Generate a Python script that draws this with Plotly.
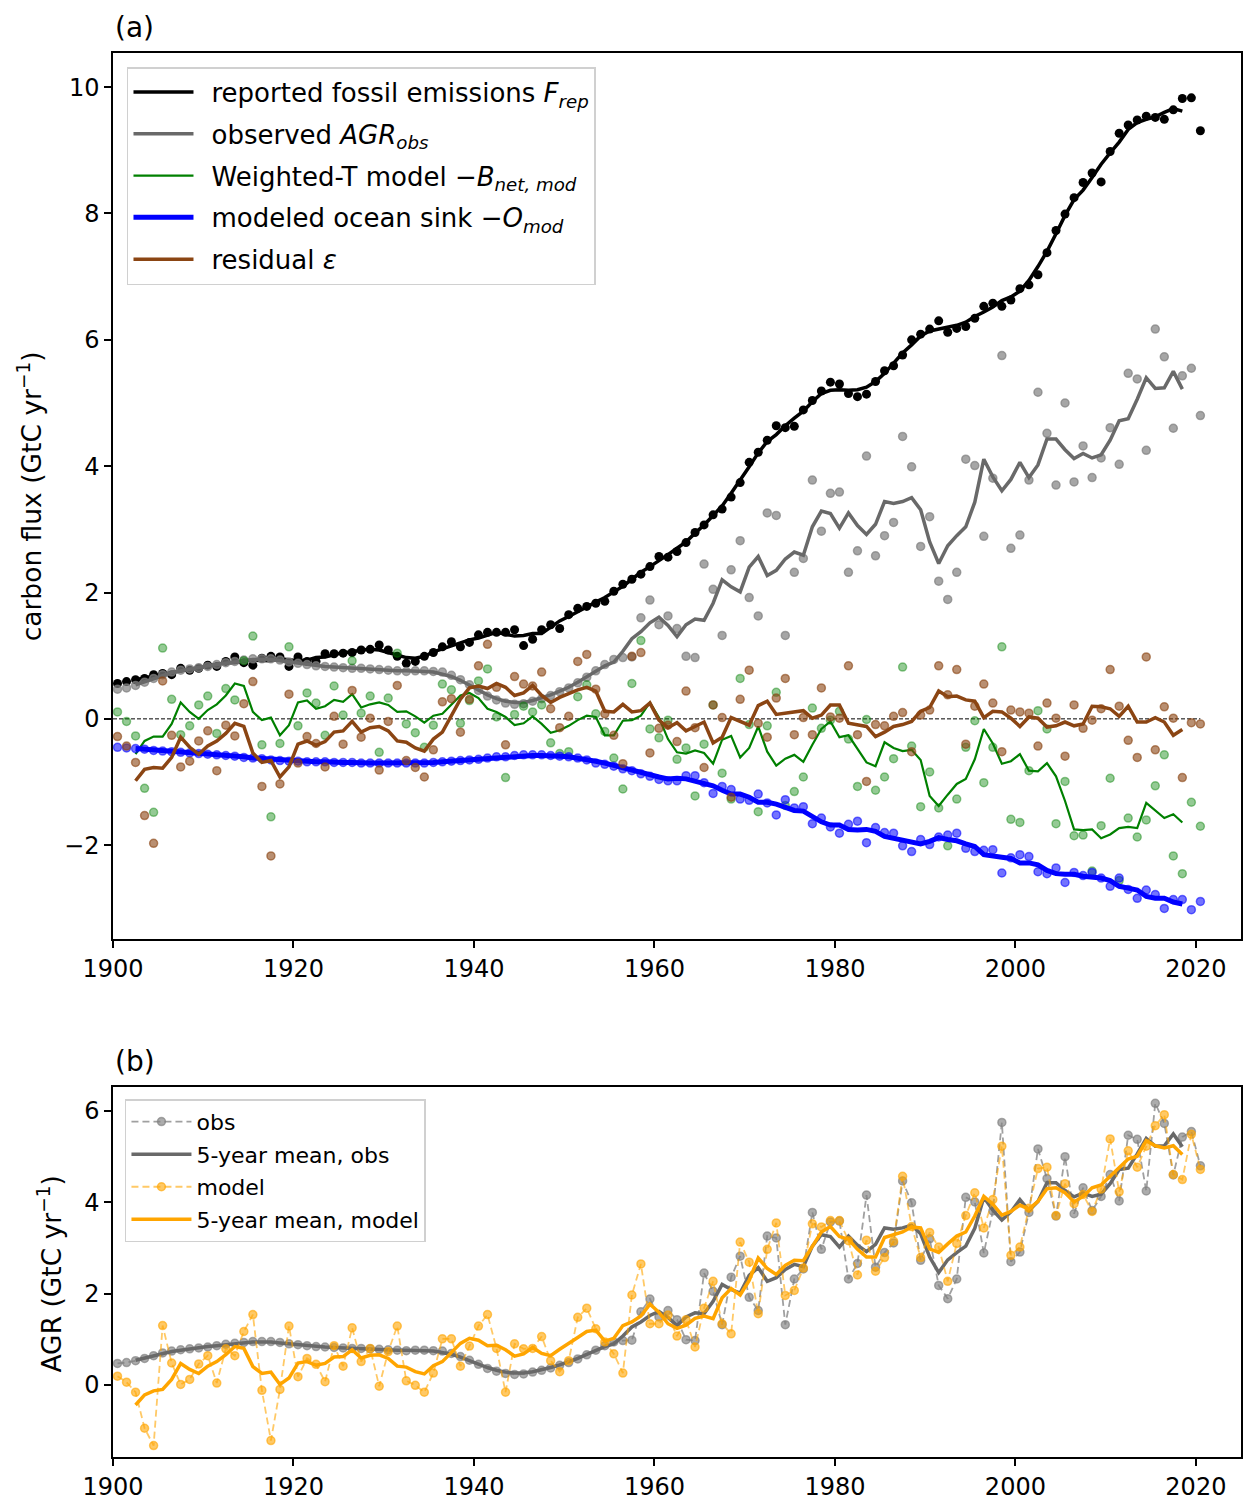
import plotly.graph_objects as go

# ---------------- data ----------------
years = list(range(1900, 2021))          # annual values
mean_years = list(range(1902, 2019))     # centred 5-year means

x_ticks = [1900, 1920, 1940, 1960, 1980, 2000, 2020]
y_ticks_a = [-2, 0, 2, 4, 6, 8, 10]
y_ticks_b = [0, 2, 4, 6]

fossil = [0.56, 0.59, 0.62, 0.64, 0.70, 0.72, 0.70, 0.80, 0.77, 0.80,
          0.85, 0.83, 0.91, 0.98, 0.89, 0.85, 0.96, 0.99, 0.98, 0.83,
          0.98, 0.91, 0.91, 1.03, 1.03, 1.04, 1.05, 1.09, 1.10, 1.17,
          1.09, 0.99, 0.88, 0.91, 0.99, 1.05, 1.14, 1.22, 1.14, 1.21,
          1.33, 1.37, 1.37, 1.37, 1.41, 1.16, 1.26, 1.41, 1.49, 1.43,
          1.65, 1.75, 1.78, 1.83, 1.86, 2.02, 2.13, 2.21, 2.29, 2.41,
          2.57, 2.56, 2.65, 2.79, 2.95, 3.07, 3.23, 3.32, 3.51, 3.74,
          4.06, 4.22, 4.41, 4.64, 4.61, 4.63, 4.89, 5.04, 5.19, 5.33,
          5.30, 5.15, 5.10, 5.14, 5.34, 5.51, 5.59, 5.76, 6.00, 6.09,
          6.17, 6.30, 6.12, 6.18, 6.21, 6.34, 6.53, 6.58, 6.53, 6.63,
          6.81, 6.87, 7.03, 7.38, 7.73, 7.99, 8.25, 8.49, 8.64, 8.50,
          8.98, 9.27, 9.40, 9.48, 9.54, 9.52, 9.49, 9.64, 9.82, 9.83, 9.31]

fossil_5y = [0.62, 0.65, 0.68, 0.71, 0.74, 0.76, 0.78, 0.81,
             0.83, 0.87, 0.89, 0.89, 0.92, 0.93, 0.93, 0.92, 0.95, 0.94,
             0.92, 0.93, 0.97, 0.98, 1.01, 1.05, 1.06, 1.09, 1.10, 1.09,
             1.05, 1.01, 0.97, 0.96, 0.99, 1.06, 1.11, 1.15, 1.21, 1.25,
             1.28, 1.33, 1.37, 1.34, 1.31, 1.32, 1.35, 1.35, 1.45, 1.55,
             1.62, 1.69, 1.77, 1.85, 1.92, 2.01, 2.10, 2.21, 2.32, 2.41,
             2.50, 2.60, 2.70, 2.80, 2.94, 3.07, 3.22, 3.37, 3.57, 3.77,
             3.99, 4.21, 4.39, 4.50, 4.64, 4.76, 4.87, 5.02, 5.15, 5.20,
             5.21, 5.20, 5.21, 5.25, 5.34, 5.47, 5.64, 5.79, 5.92, 6.06,
             6.14, 6.17, 6.20, 6.23, 6.28, 6.37, 6.44, 6.52, 6.62, 6.68,
             6.77, 6.94, 7.16, 7.40, 7.68, 7.97, 8.22, 8.37, 8.57, 8.78,
             8.96, 9.13, 9.33, 9.44, 9.49, 9.53, 9.60, 9.66, 9.62]

agr_obs = [0.47, 0.49, 0.53, 0.58, 0.64, 0.70, 0.74, 0.77, 0.79, 0.81,
           0.83, 0.86, 0.89, 0.91, 0.93, 0.95, 0.95, 0.95, 0.93, 0.90,
           0.88, 0.86, 0.84, 0.83, 0.82, 0.81, 0.80, 0.80, 0.79, 0.78,
           0.77, 0.76, 0.75, 0.76, 0.76, 0.75, 0.74, 0.69, 0.62, 0.54,
           0.45, 0.36, 0.30, 0.25, 0.23, 0.24, 0.28, 0.32, 0.37, 0.43,
           0.49, 0.57, 0.66, 0.76, 0.86, 0.94, 0.97, 0.98, 1.60, 1.88,
           1.49, 1.63, 1.43, 0.99, 0.97, 2.45, 2.05, 1.32, 2.36, 2.82,
           1.92, 1.63, 3.26, 3.22, 1.32, 2.32, 2.54, 3.78, 2.97, 3.57,
           3.59, 2.32, 2.66, 4.16, 2.58, 2.90, 3.11, 4.47, 3.99, 2.73,
           3.20, 2.18, 1.89, 2.32, 4.11, 4.01, 2.89, 3.81, 5.75, 2.70,
           2.91, 3.78, 5.17, 4.52, 3.70, 5.00, 3.75, 4.32, 3.82, 4.13,
           4.61, 4.03, 5.47, 5.38, 4.25, 6.17, 5.73, 4.60, 5.43, 5.55, 4.80]

agr_obs_5y = [0.54, 0.59, 0.64, 0.69, 0.73, 0.76, 0.79, 0.81,
              0.84, 0.86, 0.88, 0.91, 0.93, 0.94, 0.94, 0.94, 0.92, 0.90,
              0.88, 0.86, 0.85, 0.83, 0.82, 0.81, 0.80, 0.80, 0.79, 0.78,
              0.77, 0.76, 0.76, 0.76, 0.75, 0.74, 0.71, 0.67, 0.61, 0.53,
              0.45, 0.38, 0.32, 0.28, 0.26, 0.26, 0.29, 0.33, 0.38, 0.44,
              0.50, 0.58, 0.67, 0.76, 0.84, 0.90, 1.07, 1.27, 1.38, 1.52,
              1.61, 1.48, 1.30, 1.49, 1.58, 1.56, 1.83, 2.20, 2.09, 2.01,
              2.40, 2.57, 2.27, 2.35, 2.53, 2.64, 2.59, 3.04, 3.29, 3.25,
              3.02, 3.26, 3.06, 2.92, 3.08, 3.44, 3.41, 3.44, 3.50, 3.31,
              2.80, 2.46, 2.74, 2.90, 3.04, 3.43, 4.11, 3.83, 3.61, 3.79,
              4.06, 3.82, 4.02, 4.43, 4.43, 4.26, 4.12, 4.20, 4.13, 4.18,
              4.41, 4.72, 4.75, 5.06, 5.40, 5.23, 5.24, 5.50, 5.22]

land_sink = [0.11, -0.04, -0.27, -1.10, -1.48, 1.12, 0.31, -0.25, -0.11, 0.22,
             0.36, -0.23, 0.48, 0.30, 0.92, 1.31, -0.41, -1.55, -0.39, 1.14,
             -0.11, 0.41, 0.25, -0.26, 0.52, 0.06, 0.92, 0.09, 0.36, -0.53,
             0.33, 1.04, -0.08, -0.22, -0.45, -0.10, 0.55, 0.46, -0.07, 0.29,
             0.60, 0.79, 0.03, -0.93, 0.07, 0.20, 0.11, 0.22, -0.38, -0.55,
             -0.52, 0.35, 0.54, 0.08, -0.20, -0.62, -1.11, 0.56, 1.24, -0.16,
             -0.30, -0.02, -0.64, -0.46, -1.22, -0.40, 0.22, -0.86, -1.27, 0.64,
             -0.09, -1.47, -0.11, 0.42, -1.37, -1.15, -0.92, 0.17, -0.15, -0.02,
             0.12, -0.32, -1.07, -0.01, -1.13, -0.92, -0.63, 0.82, -0.43, -1.39,
             -0.84, -1.41, -2.01, -1.27, -0.45, -0.03, -1.01, -0.45, 1.14, -1.59,
             -1.64, -0.82, 0.13, -0.16, -1.66, -0.99, -1.85, -1.84, -2.41, -1.69,
             -0.94, -2.56, -1.57, -1.87, -1.60, -1.06, -0.57, -2.17, -2.45, -1.32, -1.70]

land_sink_5y = [-0.56, -0.35, -0.28, -0.28, -0.08, 0.26, 0.11, 0.00,
                0.14, 0.23, 0.37, 0.56, 0.52, 0.11, -0.02, 0.02, -0.26, -0.10,
                0.26, 0.29, 0.16, 0.20, 0.30, 0.27, 0.39, 0.18, 0.23, 0.26,
                0.22, 0.11, 0.12, 0.04, -0.06, 0.05, 0.08, 0.23, 0.37, 0.41,
                0.33, 0.16, 0.11, 0.03, -0.10, -0.07, 0.04, -0.08, -0.22, -0.18,
                -0.11, -0.02, 0.05, 0.03, -0.26, -0.26, -0.03, -0.02, 0.05, 0.26,
                0.02, -0.32, -0.53, -0.55, -0.50, -0.54, -0.71, -0.33, -0.27, -0.61,
                -0.46, -0.12, -0.52, -0.74, -0.63, -0.57, -0.68, -0.41, -0.16, -0.04,
                -0.29, -0.26, -0.48, -0.69, -0.75, -0.37, -0.46, -0.51, -0.49, -0.65,
                -1.22, -1.38, -1.20, -1.03, -0.95, -0.64, -0.16, -0.39, -0.71, -0.67,
                -0.56, -0.82, -0.83, -0.70, -0.91, -1.30, -1.75, -1.76, -1.75, -1.89,
                -1.83, -1.73, -1.71, -1.73, -1.33, -1.45, -1.57, -1.51, -1.64]

ocean_sink = [-0.45, -0.46, -0.47, -0.48, -0.50, -0.51, -0.52, -0.53, -0.54, -0.55,
              -0.56, -0.57, -0.58, -0.59, -0.61, -0.62, -0.63, -0.65, -0.66, -0.67,
              -0.67, -0.68, -0.68, -0.68, -0.69, -0.69, -0.69, -0.70, -0.70, -0.70,
              -0.70, -0.70, -0.70, -0.70, -0.70, -0.69, -0.68, -0.67, -0.66, -0.65,
              -0.64, -0.62, -0.60, -0.60, -0.58, -0.57, -0.57, -0.57, -0.58, -0.59,
              -0.60, -0.62, -0.65, -0.70, -0.72, -0.75, -0.79, -0.82, -0.87, -0.91,
              -0.96, -0.98, -0.98, -0.90, -0.90, -1.01, -1.18, -1.07, -1.12, -1.27,
              -1.29, -1.19, -1.33, -1.52, -1.28, -1.41, -1.39, -1.66, -1.57, -1.71,
              -1.81, -1.67, -1.62, -1.96, -1.72, -1.80, -1.81, -2.01, -2.10, -1.91,
              -1.99, -1.87, -1.84, -1.81, -2.05, -2.10, -2.08, -2.07, -2.44, -2.20,
              -2.15, -2.18, -2.42, -2.45, -2.36, -2.59, -2.43, -2.48, -2.43, -2.52,
              -2.65, -2.52, -2.70, -2.84, -2.71, -2.78, -3.00, -2.86, -2.86, -3.02, -2.89]

ocean_sink_5y = [-0.47, -0.48, -0.49, -0.50, -0.51, -0.53, -0.54, -0.55,
                 -0.56, -0.57, -0.58, -0.59, -0.60, -0.62, -0.63, -0.64, -0.65, -0.66,
                 -0.67, -0.68, -0.68, -0.68, -0.69, -0.69, -0.69, -0.70, -0.70, -0.70,
                 -0.70, -0.70, -0.70, -0.70, -0.70, -0.69, -0.68, -0.67, -0.66, -0.65,
                 -0.64, -0.62, -0.61, -0.60, -0.59, -0.58, -0.58, -0.58, -0.58, -0.59,
                 -0.60, -0.62, -0.64, -0.67, -0.70, -0.74, -0.77, -0.81, -0.85, -0.89,
                 -0.92, -0.95, -0.94, -0.95, -0.99, -1.01, -1.06, -1.13, -1.19, -1.19,
                 -1.24, -1.32, -1.32, -1.35, -1.39, -1.45, -1.46, -1.55, -1.63, -1.68,
                 -1.68, -1.75, -1.76, -1.75, -1.78, -1.86, -1.89, -1.93, -1.96, -1.98,
                 -1.94, -1.88, -1.91, -1.93, -1.98, -2.02, -2.15, -2.18, -2.19, -2.21,
                 -2.28, -2.28, -2.31, -2.40, -2.45, -2.46, -2.46, -2.49, -2.50, -2.52,
                 -2.56, -2.65, -2.68, -2.71, -2.81, -2.84, -2.84, -2.90, -2.93]

residual = [-0.28, -0.43, -0.69, -1.53, -1.97, 0.60, -0.26, -0.76, -0.67, -0.35,
            -0.19, -0.82, -0.10, -0.27, 0.24, 0.59, -1.07, -2.17, -1.03, 0.39,
            -0.70, -0.28, -0.39, -0.76, 0.04, -0.40, 0.45, -0.29, 0.01, -0.81,
            -0.04, 0.53, -0.66, -0.77, -0.92, -0.49, 0.27, 0.32, -0.21, 0.31,
            0.84, 1.18, 0.50, -0.41, 0.67, 0.55, 0.52, 0.74, 0.16, -0.14,
            0.04, 0.91, 1.02, 0.47, 0.08, -0.26, -0.71, 0.99, 1.05, -0.54,
            -0.15, -0.10, -0.36, 0.44, -0.14, -0.77, 0.22, 0.02, -1.24, 0.31,
            0.77, -0.07, -0.29, 0.33, 0.64, -0.25, 0.02, -0.25, 0.49, 0.03,
            0.01, 0.84, -0.25, -0.99, -0.09, -0.11, 0.04, 0.10, -0.52, 0.06,
            0.14, 0.84, 0.38, 0.78, -0.40, 0.20, 0.55, 0.25, -0.52, 0.14,
            0.11, 0.09, -0.43, 0.25, 0.01, -0.59, 0.22, -0.15, -0.02, 0.16,
            0.78, 0.20, -0.34, -0.61, 0.98, -0.49, 0.19, 0.01, -0.93, -0.06, -0.08]

residual_5y = [-0.98, -0.80, -0.77, -0.78, -0.61, -0.29, -0.45, -0.56,
               -0.43, -0.35, -0.23, -0.07, -0.12, -0.54, -0.69, -0.66, -0.92, -0.76,
               -0.40, -0.35, -0.42, -0.36, -0.21, -0.19, -0.04, -0.21, -0.14, -0.12,
               -0.19, -0.35, -0.37, -0.46, -0.51, -0.32, -0.21, 0.04, 0.31, 0.49,
               0.52, 0.48, 0.56, 0.50, 0.37, 0.41, 0.53, 0.37, 0.26, 0.34,
               0.40, 0.46, 0.50, 0.44, 0.12, 0.11, 0.23, 0.11, 0.13, 0.25,
               -0.02, -0.14, -0.06, -0.19, -0.12, -0.05, -0.38, -0.29, 0.02, -0.04,
               -0.10, 0.21, 0.28, 0.07, 0.09, 0.10, 0.13, 0.01, 0.06, 0.22,
               0.22, -0.07, -0.10, -0.12, -0.28, -0.21, -0.12, -0.09, -0.04, 0.12,
               0.18, 0.44, 0.35, 0.36, 0.30, 0.28, 0.02, 0.12, 0.11, 0.01,
               -0.12, 0.03, 0.01, -0.13, -0.11, -0.05, -0.11, -0.08, 0.20, 0.19,
               0.16, 0.04, 0.20, -0.05, -0.05, 0.02, -0.05, -0.26, -0.17]

agr_model = [0.19, 0.06, -0.16, -0.95, -1.33, 1.30, 0.48, 0.01, 0.12, 0.46,
             0.64, 0.04, 0.79, 0.64, 1.17, 1.54, -0.12, -1.22, -0.10, 1.29,
             0.18, 0.58, 0.45, 0.07, 0.86, 0.41, 1.25, 0.51, 0.80, -0.03,
             0.73, 1.29, 0.09, -0.01, -0.16, 0.26, 1.01, 1.01, 0.41, 0.85,
             1.29, 1.54, 0.80, -0.16, 0.90, 0.79, 0.80, 1.06, 0.53, 0.29,
             0.53, 1.48, 1.68, 1.23, 0.94, 0.68, 0.26, 1.97, 2.65, 1.34,
             1.34, 1.53, 1.07, 1.43, 0.83, 1.68, 2.27, 1.34, 1.12, 3.13,
             2.69, 1.56, 2.97, 3.55, 1.96, 2.07, 2.56, 3.53, 3.46, 3.60,
             3.60, 3.16, 2.41, 3.17, 2.49, 2.79, 3.15, 4.57, 3.47, 2.79,
             3.34, 3.02, 2.27, 3.10, 3.71, 4.21, 3.44, 4.06, 5.23, 2.84,
             3.02, 3.87, 4.74, 4.77, 3.71, 4.41, 3.97, 4.17, 3.80, 4.29,
             5.39, 4.23, 5.13, 4.77, 5.23, 5.68, 5.92, 4.61, 4.50, 5.49, 4.72]

agr_model_5y = [-0.44, -0.22, -0.13, -0.10, 0.12, 0.47, 0.34, 0.25,
                0.41, 0.51, 0.66, 0.84, 0.80, 0.40, 0.25, 0.28, 0.01, 0.15,
                0.48, 0.51, 0.43, 0.47, 0.61, 0.62, 0.77, 0.59, 0.65, 0.66,
                0.58, 0.41, 0.39, 0.29, 0.24, 0.42, 0.51, 0.71, 0.91, 1.02,
                0.98, 0.86, 0.87, 0.77, 0.63, 0.68, 0.82, 0.69, 0.64, 0.78,
                0.90, 1.04, 1.17, 1.20, 0.96, 1.02, 1.30, 1.38, 1.51, 1.77,
                1.59, 1.34, 1.24, 1.31, 1.46, 1.51, 1.45, 1.91, 2.11, 1.97,
                2.29, 2.78, 2.55, 2.42, 2.62, 2.73, 2.72, 3.04, 3.35, 3.47,
                3.25, 3.19, 2.97, 2.80, 2.80, 3.23, 3.29, 3.35, 3.46, 3.44,
                2.98, 2.90, 3.09, 3.26, 3.35, 3.70, 4.13, 3.96, 3.72, 3.80,
                3.94, 3.85, 4.02, 4.30, 4.32, 4.21, 4.01, 4.13, 4.32, 4.38,
                4.57, 4.76, 4.95, 5.01, 5.35, 5.24, 5.19, 5.24, 5.05]

# ---------------- styling ----------------
FONT = "DejaVu Sans"
X_OFF = 0.5                       # annual values drawn at mid-year
x_ann = [y + X_OFF for y in years]
x_mean = [y + X_OFF for y in mean_years]
GAP = "\u2002"                    # small gap between legend symbol and text


def rgba(rgb, a):
    return f"rgba({rgb[0]},{rgb[1]},{rgb[2]},{a})"


BLACK = (0, 0, 0)
GRAY = (128, 128, 128)
DIMGRAY = (105, 105, 105)
GREEN = (0, 128, 0)
BLUE = (0, 0, 255)
BROWN = (139, 69, 19)
ORANGE = (255, 165, 0)

fig = go.Figure()

# zero reference line (panel a)
fig.add_trace(go.Scatter(x=[years[0], years[-1] + X_OFF], y=[0, 0], mode="lines",
                         line=dict(color="black", width=1, dash="4px,2px"),
                         showlegend=False, hoverinfo="skip", xaxis="x", yaxis="y"))

panel_a = [
    ("F", fossil, fossil_5y, BLACK, 1.0, 9, BLACK, 3.5,
     "reported fossil emissions <i>F<sub>rep</sub></i>"),
    ("AGR", agr_obs, agr_obs_5y, GRAY, 0.7, 8, DIMGRAY, 3.5,
     "observed <i>AGR<sub>obs</sub></i>"),
    ("B", land_sink, land_sink_5y, GREEN, 0.42, 8, GREEN, 2.2,
     "Weighted-T model −<i>B<sub>net, mod</sub></i>"),
    ("O", ocean_sink, ocean_sink_5y, BLUE, 0.55, 8, BLUE, 5,
     "modeled ocean sink −<i>O<sub>mod</sub></i>"),
    ("E", residual, residual_5y, BROWN, 0.6, 8, BROWN, 3.5,
     "residual <i>ε</i>"),
]

for grp, annual, mean5, col, alpha, msize, lcol, lw, label in panel_a:
    fig.add_trace(go.Scatter(
        x=x_ann, y=annual, mode="markers", legendgroup=grp, showlegend=False,
        marker=dict(size=msize, color=rgba(col, alpha),
                    line=dict(color=rgba(col, alpha), width=1.5 if alpha < 1 else 0)),
        xaxis="x", yaxis="y", hoverinfo="skip"))
    fig.add_trace(go.Scatter(
        x=x_mean, y=mean5, mode="lines", legendgroup=grp, name=GAP + label,
        line=dict(color=rgba(lcol, 1), width=lw),
        xaxis="x", yaxis="y", legend="legend"))

# panel b
fig.add_trace(go.Scatter(
    x=x_ann, y=agr_obs, mode="lines+markers", name="obs", legendgroup="b1",
    line=dict(color=rgba(GRAY, 0.75), width=1.8, dash="7px,4px"),
    marker=dict(size=8, color=rgba(GRAY, 0.65), line=dict(color=rgba(GRAY, 0.65), width=1.5)),
    xaxis="x2", yaxis="y2", legend="legend2"))
fig.add_trace(go.Scatter(
    x=x_mean, y=agr_obs_5y, mode="lines", name="5-year mean, obs", legendgroup="b2",
    line=dict(color=rgba(DIMGRAY, 1), width=3.5),
    xaxis="x2", yaxis="y2", legend="legend2"))
fig.add_trace(go.Scatter(
    x=x_ann, y=agr_model, mode="lines+markers", name="model", legendgroup="b3",
    line=dict(color=rgba(ORANGE, 0.6), width=1.8, dash="7px,4px"),
    marker=dict(size=8, color=rgba(ORANGE, 0.6), line=dict(color=rgba(ORANGE, 0.6), width=1.5)),
    xaxis="x2", yaxis="y2", legend="legend2"))
fig.add_trace(go.Scatter(
    x=x_mean, y=agr_model_5y, mode="lines", name="5-year mean, model", legendgroup="b4",
    line=dict(color=rgba(ORANGE, 1), width=3.5),
    xaxis="x2", yaxis="y2", legend="legend2"))

axis_common = dict(showline=True, mirror=True, linecolor="black", linewidth=1.5,
                   ticks="outside", ticklen=7, tickwidth=1.5, tickcolor="black",
                   showgrid=False, zeroline=False, tickfont=dict(size=24, family=FONT))

fig.update_layout(
    width=1244, height=1502,
    margin=dict(l=113, r=1, t=53, b=44, pad=0),
    paper_bgcolor="white", plot_bgcolor="white",
    font=dict(family=FONT, size=24, color="black"),
    showlegend=True,
    xaxis=dict(domain=[0, 1], range=[1900, 2025], anchor="y", tickvals=x_ticks, **axis_common),
    yaxis=dict(domain=[0.3687, 1], range=[-3.49, 10.54], anchor="x", tickvals=y_ticks_a, **axis_common),
    xaxis2=dict(domain=[0, 1], range=[1900, 2025], anchor="y2", tickvals=x_ticks, **axis_common),
    yaxis2=dict(domain=[0, 0.2633], range=[-1.58, 6.52], anchor="x2", tickvals=y_ticks_b, **axis_common),
    legend=dict(x=0.0124, y=0.990, xanchor="left", yanchor="top",
                bgcolor="rgba(255,255,255,0.85)", bordercolor="#d0d0d0", borderwidth=1.5,
                font=dict(size=26, family=FONT), traceorder="grouped", tracegroupgap=5,
                itemwidth=60),
    legend2=dict(x=0.0106, y=0.2548, xanchor="left", yanchor="top",
                 bgcolor="rgba(255,255,255,0.85)", bordercolor="#d0d0d0", borderwidth=1.5,
                 font=dict(size=22, family=FONT), traceorder="grouped", tracegroupgap=1,
                 itemwidth=60),
    annotations=[
        dict(text="(a)", xref="paper", yref="paper", x=0, y=1.0185, xanchor="left",
             yanchor="middle", showarrow=False, font=dict(size=28, family=FONT)),
        dict(text="(b)", xref="paper", yref="paper", x=0, y=0.2819, xanchor="left",
             yanchor="middle", showarrow=False, font=dict(size=28, family=FONT)),
        dict(text="carbon flux (GtC yr<sup>−1</sup>)", xref="paper", yref="paper",
             x=-0.0735, y=0.6843, textangle=-90, xanchor="center", yanchor="middle",
             showarrow=False, font=dict(size=26.5, family=FONT)),
        dict(text="AGR (GtC yr<sup>−1</sup>)", xref="paper", yref="paper",
             x=-0.0558, y=0.130, textangle=-90, xanchor="center", yanchor="middle",
             showarrow=False, font=dict(size=26.5, family=FONT)),
    ],
)

fig.write_html("out.html", config={"displayModeBar": False},
               post_script="document.body.style.margin='0px';")
